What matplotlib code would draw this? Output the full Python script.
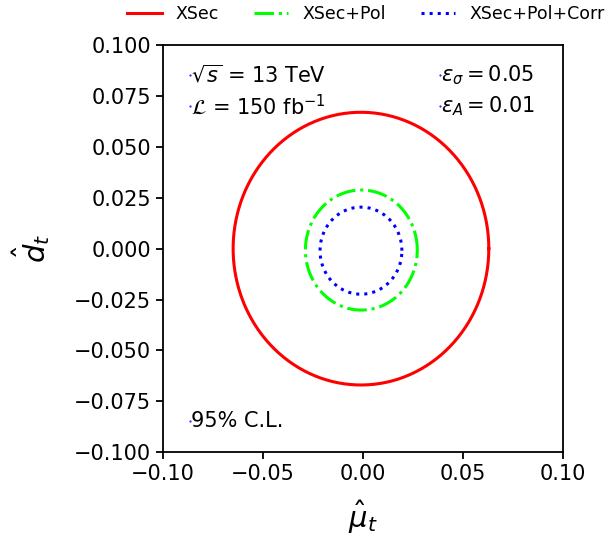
import numpy as np
import matplotlib.pyplot as plt

labels = ['XSec', 'XSec+Pol', 'XSec+Pol+Corr']
centers_x = [-0.001, -0.0008, -0.001]
centers_y = [0.0, -0.0007, -0.001]
semi_x = [0.064, 0.028, 0.0205]
semi_y = [0.067, 0.0295, 0.0214]
colors = ['red', 'lime', 'blue']
styles = ['-', '-.', ':']

fig = plt.figure(figsize=(6.09, 5.37), dpi=100)
ax = fig.add_axes([0.268, 0.158, 0.656, 0.758])

t = np.linspace(0, 2 * np.pi, 400)
for lab, cx, cy, a, b, c, ls in zip(labels, centers_x, centers_y, semi_x, semi_y, colors, styles):
    ax.plot(cx + a * np.cos(t), cy + b * np.sin(t), color=c, ls=ls, lw=2.2, label=lab)

ax.set_xlim(-0.1, 0.1)
ax.set_ylim(-0.1, 0.1)
ticks = [-0.1, -0.05, 0.0, 0.05, 0.1]
ax.set_xticks(ticks)
ax.set_xticklabels(['−0.10', '−0.05', '0.00', '0.05', '0.10'])
ax.set_yticks(np.arange(-0.1, 0.1001, 0.025))
ax.set_yticklabels(['−0.100', '−0.075', '−0.050', '−0.025', '0.000',
                    '0.025', '0.050', '0.075', '0.100'])
ax.tick_params(labelsize=15, width=1.3, length=5)
for sp in ax.spines.values():
    sp.set_linewidth(1.3)
ax.set_xlabel(r'$\hat{\mu}_t$', fontsize=21, labelpad=11)
ax.set_ylabel(r'$\hat{d}_t$', fontsize=21, labelpad=16)

ax.plot([-0.0865, -0.0865, 0.0385, 0.0385, -0.0865],
        [0.0853, 0.070, 0.0853, 0.070, -0.0848],
        ls='none', marker='.', ms=1, color='blue')
ax.text(-0.086, 0.0853, r'$\sqrt{s}$ = 13 TeV', fontsize=15, va='center')
ax.text(-0.086, 0.070, r'$\mathcal{L}$ = 150 fb$^{-1}$', fontsize=15, va='center')
ax.text(0.039, 0.0853, r'$\epsilon_\sigma = 0.05$', fontsize=15, va='center')
ax.text(0.039, 0.070, r'$\epsilon_A = 0.01$', fontsize=15, va='center')
ax.text(-0.086, -0.0848, '95% C.L.', fontsize=15, va='center')

fig.legend(loc='center left', bbox_to_anchor=(0.2085, 0.974), ncol=3, frameon=False,
           fontsize=12.5, handlelength=2, columnspacing=2.0, borderpad=0,
           borderaxespad=0)

fig.savefig('out.png', dpi=100)
